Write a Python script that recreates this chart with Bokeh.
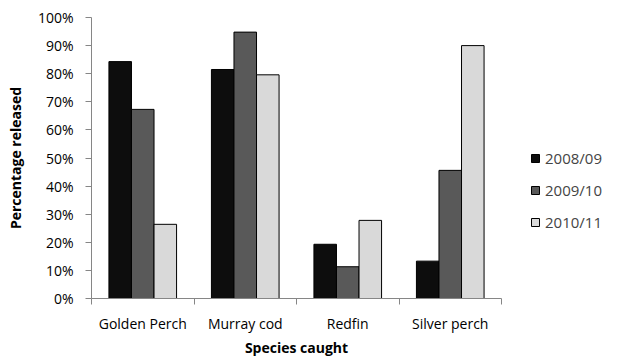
from bokeh.plotting import figure
from bokeh.models import ColumnDataSource, FixedTicker, Legend, LegendItem, NumeralTickFormatter, Range1d
from bokeh.embed import file_html
from bokeh.resources import INLINE

species = ["Golden Perch", "Murray cod", "Redfin", "Silver perch"]
years = ["2008/09", "2009/10", "2010/11"]
v_2008_09 = [0.843, 0.815, 0.193, 0.133]
v_2009_10 = [0.673, 0.948, 0.113, 0.456]
v_2010_11 = [0.264, 0.796, 0.278, 0.900]
colors = ["#0d0d0d", "#595959", "#d9d9d9"]
y_ticks = [0, 0.1, 0.2, 0.3, 0.4, 0.5, 0.6, 0.7, 0.8, 0.9, 1.0]

FONT = "Open Sans"
p = figure(frame_width=410, frame_height=281, output_backend="svg", toolbar_location=None,
           x_range=Range1d(0, len(species)), y_range=Range1d(0, 1.0),
           min_border_left=91, min_border_right=108, min_border_top=17, min_border_bottom=55)
p.outline_line_color = None
p.grid.visible = False

bw = 0.22
offsets = [-bw, 0, bw]
renderers = []
for vals, off, col in zip([v_2008_09, v_2009_10, v_2010_11], offsets, colors):
    src = ColumnDataSource(dict(x=[i + 0.5 + off for i in range(len(species))], top=vals))
    r = p.vbar(x="x", top="top", width=bw, bottom=0, source=src,
               fill_color=col, line_color="black", line_width=1)
    renderers.append(r)

# x axis
p.xaxis.ticker = FixedTicker(ticks=[i + 0.5 for i in range(len(species))],
                             minor_ticks=list(range(len(species) + 1)))
p.xaxis.major_label_overrides = {i + 0.5: s for i, s in enumerate(species)}
p.xaxis.major_tick_out = 0
p.xaxis.major_tick_in = 0
p.xaxis.minor_tick_out = 6
p.xaxis.minor_tick_in = 0
p.xaxis.minor_tick_line_color = "#868686"
p.xaxis.axis_line_color = "#868686"
p.xaxis.major_label_text_font = FONT
p.xaxis.major_label_text_font_size = "14px"
p.xaxis.major_label_text_color = "black"
p.xaxis.major_label_standoff = 9
p.xaxis.axis_label = "Species caught"
p.xaxis.axis_label_text_font = FONT
p.xaxis.axis_label_text_font_size = "14px"
p.xaxis.axis_label_text_font_style = "bold"
p.xaxis.axis_label_text_color = "black"
p.xaxis.axis_label_standoff = 2

# y axis
p.yaxis.ticker = FixedTicker(ticks=y_ticks, minor_ticks=[])
p.yaxis.formatter = NumeralTickFormatter(format="0%")
p.yaxis.major_tick_out = 6
p.yaxis.major_tick_in = 0
p.yaxis.major_tick_line_color = "#868686"
p.yaxis.axis_line_color = "#868686"
p.yaxis.major_label_text_font = FONT
p.yaxis.major_label_text_font_size = "14px"
p.yaxis.major_label_text_color = "black"
p.yaxis.major_label_standoff = 12
p.yaxis.axis_label = "Percentage released"
p.yaxis.axis_label_text_font = FONT
p.yaxis.axis_label_text_font_size = "14px"
p.yaxis.axis_label_text_font_style = "bold"
p.yaxis.axis_label_text_color = "black"
p.yaxis.axis_label_standoff = 10

legend = Legend(items=[LegendItem(label=y, renderers=[r]) for y, r in zip(years, renderers)],
                location=(29, 66), border_line_color=None, background_fill_alpha=0,
                glyph_width=10, glyph_height=10, label_height=20, spacing=12,
                label_text_font=FONT, label_text_font_size="15px", padding=0, margin=0,
                label_standoff=5)
p.add_layout(legend, "right")

open("out.html", "w").write(file_html(p, INLINE))
